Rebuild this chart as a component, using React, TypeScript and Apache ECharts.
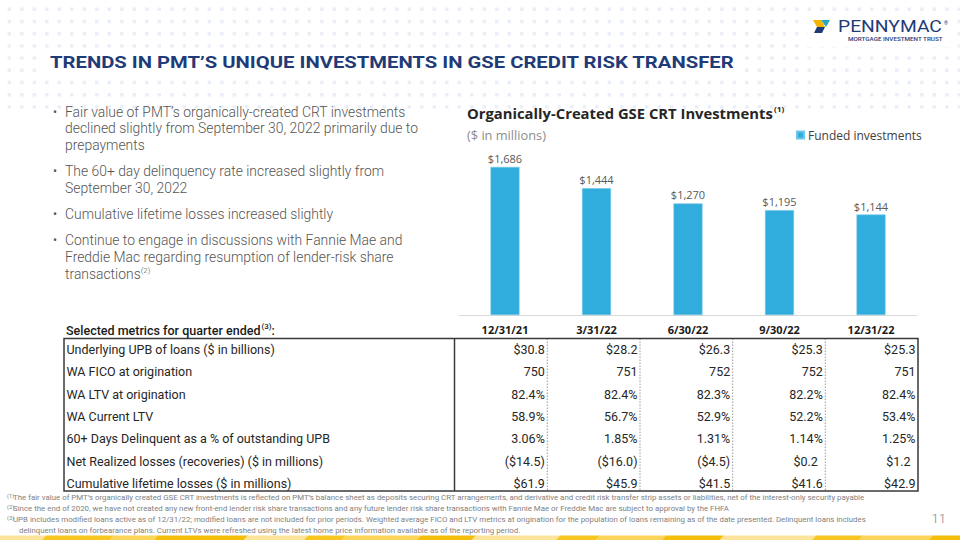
import React, { useEffect, useRef } from "react";
import * as echarts from "echarts";

const pageTitle = "TRENDS IN PMT’S UNIQUE INVESTMENTS IN GSE CREDIT RISK TRANSFER";
const chartTitle = "Organically-Created GSE CRT Investments";
const chartSubtitle = "($ in millions)";
const seriesName = "Funded investments";
const quarters = ["12/31/21", "3/31/22", "6/30/22", "9/30/22", "12/31/22"];
const fundedInvestments = [1686, 1444, 1270, 1195, 1144];

const tableHeader = "Selected metrics for quarter ended";
const metricLabels = [
  "Underlying UPB of loans ($ in billions)",
  "WA FICO at origination",
  "WA LTV at origination",
  "WA Current LTV",
  "60+ Days Delinquent as a % of outstanding UPB",
  "Net Realized losses (recoveries) ($ in millions)",
  "Cumulative lifetime losses ($ in millions)",
];
const upbBillions = [30.8, 28.2, 26.3, 25.3, 25.3];
const waFicoAtOrigination = [750, 751, 752, 752, 751];
const waLtvAtOrigination = [82.4, 82.4, 82.3, 82.2, 82.4];
const waCurrentLtv = [58.9, 56.7, 52.9, 52.2, 53.4];
const delinquent60Pct = [3.06, 1.85, 1.31, 1.14, 1.25];
const netRealizedLosses = [-14.5, -16.0, -4.5, 0.2, 1.2];
const cumulativeLosses = [61.9, 45.9, 41.5, 41.6, 42.9];

const bulletLines = [
  ["Fair value of PMT’s organically-created CRT investments", "declined slightly from September 30, 2022 primarily due to", "prepayments"],
  ["The 60+ day delinquency rate increased slightly from", "September 30, 2022"],
  ["Cumulative lifetime losses increased slightly"],
  ["Continue to engage in discussions with Fannie Mae and", "Freddie Mac regarding resumption of lender-risk share", "transactions{sup|(2)}"],
];

const footnotes = [
  ["(1)", "The fair value of PMT’s organically created GSE CRT investments is reflected on PMT’s balance sheet as deposits securing CRT arrangements, and derivative and credit risk transfer strip assets or liabilities, net of the interest-only security payable"],
  ["(2)", "Since the end of 2020, we have not created any new front-end lender risk share transactions and any future lender risk share transactions with Fannie Mae or Freddie Mac are subject to approval by the FHFA"],
  ["(3)", "UPB includes modified loans active as of 12/31/22; modified loans are not included for prior periods. Weighted average FICO and LTV metrics at origination for the population of loans remaining as of the date presented. Delinquent loans includes"],
  ["", "delinquent loans on forbearance plans. Current LTVs were refreshed using the latest home price information available as of the reporting period."],
];
const pageNumber = "11";
const logoName = "PENNYMAC";
const logoTagline = "MORTGAGE INVESTMENT TRUST";

const NAVY = "#1f3b78";
const BAR = "#30acdd";

function measure(text: string, font: string): number {
  const c = document.createElement("canvas").getContext("2d");
  if (!c) return 1;
  c.font = font;
  return c.measureText(text).width || 1;
}
function fit(text: string, font: string, target: number): number {
  const w = measure(text, font);
  const s = target / w;
  return s > 0.5 && s < 2 ? s : 1;
}

const money1 = (v: number) => `$${v.toFixed(1)}`;
const int0 = (v: number) => `${v}`;
const pct1 = (v: number) => `${v.toFixed(1)}%`;
const pct2 = (v: number) => `${v.toFixed(2)}%`;
const acct = (v: number) => (v < 0 ? `($${Math.abs(v).toFixed(1)})` : `$${v.toFixed(1)}`);

const tableRows: { values: number[]; fmt: (v: number) => string; accounting?: boolean }[] = [
  { values: upbBillions, fmt: money1 },
  { values: waFicoAtOrigination, fmt: int0 },
  { values: waLtvAtOrigination, fmt: pct1 },
  { values: waCurrentLtv, fmt: pct1 },
  { values: delinquent60Pct, fmt: pct2 },
  { values: netRealizedLosses, fmt: acct, accounting: true },
  { values: cumulativeLosses, fmt: money1 },
];

let dotsRegistered = false;
function registerDots() {
  if (dotsRegistered) return;
  let d = "";
  for (let r = 0; r < 9; r++) {
    const y = 7.6 + r * 12.2;
    for (let c = 0; c < 77; c++) {
      const x = 7.6 + c * 12.5;
      d += `M${x.toFixed(1)} ${y.toFixed(1)}h3.4v3.4h-3.4z`;
    }
  }
  echarts.graphic.registerShape("dotgrid", echarts.graphic.extendPath(d, {}) as any);
  dotsRegistered = true;
}

function txt(x: number, y: number, text: string, o: any = {}) {
  const size = o.size ?? 12;
  const weight = o.weight ?? 400;
  const family = o.family ?? "Roboto";
  return {
    type: "text",
    x,
    y,
    scaleX: o.scaleX ?? 1,
    z: o.z ?? 10,
    style: {
      text,
      fill: o.color ?? "#333",
      fontSize: size,
      fontWeight: weight,
      fontFamily: family,
      textAlign: o.align ?? "left",
      textVerticalAlign: o.valign ?? "middle",
      align: o.align ?? "left",
      verticalAlign: o.valign ?? "middle",
      rich: o.rich,
    },
  };
}

function buildOption() {
  registerDots();
  const g: any[] = [];

  // dotted background pattern
  g.push({ type: "dotgrid", x: 0, y: 0, z: 1, style: { fill: "#eaeef6" } });

  // page title with white backdrop
  const titleSx = fit(pageTitle, "bold 17px Roboto", 685);
  g.push({ type: "rect", z: 2, shape: { x: 44, y: 50, width: 700, height: 24 }, style: { fill: "#fff" } });
  g.push(txt(50, 63, pageTitle, { size: 17, weight: 700, color: NAVY, scaleX: titleSx }));

  // logo
  g.push({ type: "rect", z: 2, shape: { x: 808, y: 15, width: 145, height: 32 }, style: { fill: "#fff" } });
  g.push({ type: "polygon", z: 5, shape: { points: [[813, 20], [821, 20], [825, 27], [817, 27]] }, style: { fill: "#f4b400" } });
  g.push({ type: "polygon", z: 5, shape: { points: [[821, 20], [830, 20], [826, 27]] }, style: { fill: "#2aa8b8" } });
  g.push({ type: "polygon", z: 5, shape: { points: [[817, 27], [825, 27], [822, 33], [814, 33]] }, style: { fill: NAVY } });
  g.push(txt(838, 26.5, logoName, { size: 16, weight: 400, color: NAVY, scaleX: fit(logoName, "400 16px Roboto", 104) }));
  g.push(txt(944, 23, "®", { size: 5, color: NAVY }));
  g.push(txt(848, 39.5, logoTagline, { size: 4.6, weight: 500, color: NAVY, scaleX: fit(logoTagline, "500 4.6px Roboto", 95) }));

  // bullets
  let y = 111.7;
  bulletLines.forEach((lines) => {
    g.push(txt(53, y, "•", { size: 12, color: "#595959" }));
    lines.forEach((line) => {
      g.push(
        txt(65, y, line, {
          size: 13.9,
          weight: 300,
          color: "#555",
          rich: { sup: { fontSize: 8, fontWeight: 300, fontFamily: "Roboto", fill: "#555", verticalAlign: "top", padding: [0, 0, 7, 0] } },
        })
      );
      y += 16.7;
    });
    y += 9.5;
  });

  // chart title / subtitle
  const ctSx = fit(chartTitle, "700 13.5px 'Open Sans'", 306);
  g.push(
    txt(467, 113.5, chartTitle + "{sup|(1)}", {
      size: 13.5,
      weight: 700,
      family: "Open Sans",
      color: "#262626",
      scaleX: ctSx,
      rich: { sup: { fontSize: 7.5, fontWeight: 700, fontFamily: "Open Sans", fill: "#262626", padding: [0, 0, 8, 1] } },
    })
  );
  g.push(txt(467, 135.5, chartSubtitle, { size: 12, family: "Open Sans", color: "#8c8c8c", scaleX: fit(chartSubtitle, "400 12px 'Open Sans'", 79) }));

  // table header
  g.push(
    txt(66, 330, tableHeader + "{sup|(3)}:", {
      size: 12.5,
      weight: 500,
      color: "#1a1a1a",
      rich: { sup: { fontSize: 8, fontWeight: 500, fontFamily: "Roboto", fill: "#1a1a1a", padding: [0, 0, 7, 1] } },
    })
  );

  // table
  const tL = 64, tR = 918, tT = 338.5, tB = 491;
  const labelRight = 454.5;
  const colBounds = [labelRight, 547.3, 640, 732.7, 825.3, tR];
  const rowH = 22.35;
  for (let i = 1; i < colBounds.length - 1; i++) {
    g.push({ type: "line", z: 6, shape: { x1: colBounds[i], y1: tT, x2: colBounds[i], y2: tB }, style: { stroke: "#9a9a9a", lineWidth: 1, lineDash: [1.5, 1.5] } });
  }
  g.push({ type: "line", z: 7, shape: { x1: labelRight, y1: tT, x2: labelRight, y2: tB }, style: { stroke: "#3a3a3a", lineWidth: 1.5 } });
  g.push({ type: "rect", z: 7, shape: { x: tL, y: tT, width: tR - tL, height: tB - tT }, style: { fill: "none", stroke: "#3a3a3a", lineWidth: 1.5 } });
  metricLabels.forEach((lab, r) => {
    const cy = tT + 11 + r * rowH;
    g.push(txt(66.5, cy, lab, { size: 12.5, color: "#262626" }));
    const row = tableRows[r];
    row.values.forEach((v, c) => {
      const extra = row.accounting && v >= 0 ? 5 : 0;
      g.push(txt(colBounds[c + 1] - 2.5 - extra, cy, row.fmt(v), { size: 12.5, color: "#262626", align: "right" }));
    });
  });

  // footnotes
  const fnSx = fit(footnotes[0][1], "7.5px Roboto", 852);
  footnotes.forEach((fn, i) => {
    const fy = 498 + i * 11;
    if (fn[0]) g.push(txt(7, fy - 1.5, fn[0], { size: 5.5, color: "#7f7f7f", scaleX: fnSx }));
    g.push(txt(fn[0] ? 13 : 19, fy, fn[1], { size: 7.5, color: "#7f7f7f", scaleX: fnSx }));
  });

  // page number
  g.push(txt(946, 518, pageNumber, { size: 13, weight: 300, color: "#7f7f7f", align: "right" }));

  // bottom band
  const bandColors = ["#fde49a", "#f8c620", "#fbd45a", "#f5bd0c"];
  let bx = -10;
  let k = 0;
  const widths = [52, 68, 44, 90, 60, 38, 75, 55, 84, 40, 66, 58, 92, 47, 70, 54, 80];
  while (bx < 970) {
    const w = widths[k % widths.length];
    g.push({ type: "polygon", z: 3, shape: { points: [[bx + 4, 535.5], [bx + w + 4, 535.5], [bx + w, 540], [bx, 540]] }, style: { fill: bandColors[k % bandColors.length] } });
    bx += w;
    k++;
  }

  return {
    animation: false,
    backgroundColor: "#ffffff",
    textStyle: { fontFamily: "Open Sans" },
    legend: {
      data: [seriesName],
      left: 796,
      top: 129,
      padding: 0,
      icon: "rect",
      itemWidth: 7,
      itemHeight: 7,
      itemGap: 4,
      textStyle: { color: "#404040", fontSize: 12, fontFamily: "Open Sans", padding: [0, 0, 0, -1] },
    },
    grid: { left: 459.25, top: 139.4, width: 457.5, height: 175.6, containLabel: false },
    xAxis: {
      type: "category",
      data: quarters,
      axisLine: { lineStyle: { color: "#d9d9d9", width: 1 } },
      axisTick: { show: false },
      axisLabel: { color: "#1a1a1a", fontWeight: 700, fontSize: 11, fontFamily: "Open Sans", margin: 9 },
    },
    yAxis: { type: "value", min: 0, max: 2000, show: false, splitLine: { show: false } },
    series: [
      {
        name: seriesName,
        type: "bar",
        data: fundedInvestments,
        barWidth: 29,
        itemStyle: { color: BAR, borderColor: "#6fc6e8", borderWidth: 0.6 },
        label: {
          show: true,
          position: "top",
          distance: 3,
          color: "#595959",
          fontSize: 11,
          fontFamily: "Open Sans",
          formatter: (p: any) => "$" + Number(p.value).toLocaleString("en-US"),
        },
      },
    ],
    graphic: g,
  };
}

export default function App() {
  const ref = useRef<HTMLDivElement>(null);
  useEffect(() => {
    if (!ref.current) return;
    const chart = echarts.init(ref.current, undefined, { renderer: "svg", width: 960, height: 540 });
    chart.setOption(buildOption() as any);
    return () => chart.dispose();
  }, []);
  return (
    <div
      ref={ref}
      style={{ position: "fixed", left: 0, top: 0, width: 960, height: 540, background: "#fff" }}
    />
  );
}
